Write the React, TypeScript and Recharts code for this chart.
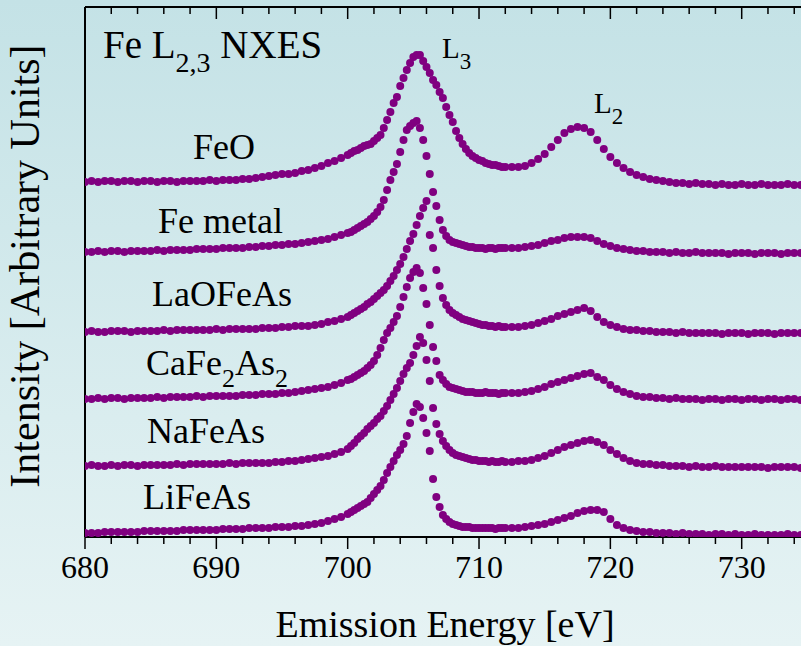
import React from 'react';
import { ScatterChart, Scatter, XAxis, YAxis } from 'recharts';

// energy grid [eV]: coarse on the tails, finer across the L3 peak
const energyLow = [
  680, 680.5, 681, 681.5, 682, 682.5, 683, 683.5, 684, 684.5,
  685, 685.5, 686, 686.5, 687, 687.5, 688, 688.5, 689, 689.5,
  690, 690.5, 691, 691.5, 692, 692.5, 693, 693.5, 694, 694.5,
  695, 695.5, 696, 696.5, 697, 697.5, 698, 698.5, 699, 699.5,
  700,
];
const energyPeak = [
  700.25, 700.5, 700.75, 701, 701.25, 701.5, 701.75, 702, 702.25, 702.5, 702.75, 703,
  703.25, 703.5, 703.75, 704, 704.25, 704.5, 704.75, 705, 705.25, 705.5, 705.75, 706,
  706.25, 706.5, 706.75, 707, 707.25, 707.5, 707.75, 708, 708.25, 708.5, 708.75, 709,
  709.25, 709.5, 709.75, 710, 710.25, 710.5, 710.75, 711, 711.25, 711.5, 711.75, 712,
];
const energyHigh = [
  712.5, 713, 713.5, 714, 714.5, 715, 715.5, 716, 716.5, 717,
  717.5, 718, 718.5, 719, 719.5, 720, 720.5, 721, 721.5, 722,
  722.5, 723, 723.5, 724, 724.5, 725, 725.5, 726, 726.5, 727,
  727.5, 728, 728.5, 729, 729.5, 730, 730.5, 731, 731.5, 732,
  732.5, 733, 733.5, 734, 734.5, 735,
];
const energy = [...energyLow, ...energyPeak, ...energyHigh];

// intensities (arb. units)
const feo = [
  0, 1, 0, 1, 1, 0, 1, 1, 0, 1,
  1, 0, 1, 1, 0, 1, 1, 1, 1, 2,
  1, 2, 2, 2, 3, 3, 4, 5, 6, 7,
  8, 8, 9, 11, 12, 14, 16, 19, 21, 24,
  27,
  29, 31, 32, 34, 36, 37, 38, 41, 44, 47, 54, 62,
  70, 79, 85, 96, 104, 112, 119, 125, 127, 127, 121, 115,
  109, 102, 97, 90, 84, 75, 67, 60, 51, 44, 38, 33,
  29, 26, 24, 22, 21, 19, 18, 17, 17, 16, 15, 15,
  15, 15, 16, 19, 23, 28, 35, 42, 49, 53,
  55, 54, 50, 42, 33, 25, 19, 14, 10, 7,
  5, 3, 2, 1, 0, -1, -1, -2, -1, -2,
  -2, -3, -2, -3, -3, -2, -3, -3, -2, -3,
  -3, -3, -2, -3, -3, -3,
];
const feMetal = [
  0, 0, 1, 0, 1, 1, 0, 1, 1, 1,
  1, 2, 1, 2, 2, 2, 2, 3, 3, 3,
  3, 4, 4, 4, 4, 5, 5, 6, 6, 7,
  7, 8, 8, 9, 10, 11, 12, 13, 15, 17,
  19,
  20, 22, 24, 26, 28, 30, 33, 36, 40, 45, 52, 62,
  72, 80, 88, 100, 112, 122, 126, 129, 131, 124, 112, 96,
  78, 60, 46, 32, 22, 16, 12, 10, 9, 8, 7, 6,
  5, 5, 4, 4, 4, 3, 4, 4, 3, 4, 4, 4,
  4, 4, 5, 6, 7, 9, 11, 12, 14, 15,
  15, 15, 14, 11, 8, 6, 4, 3, 2, 1,
  1, 0, 0, 0, -1, 0, -1, -1, 0, -1,
  -1, -1, -1, -2, -1, -1, -1, -2, -1, -1,
  -1, -2, -1, -1, -1, -1,
];
const laofeas = [
  0, 1, 0, 0, 1, 1, 1, 0, 1, 1,
  1, 1, 2, 1, 2, 2, 2, 2, 2, 2,
  3, 2, 3, 3, 3, 3, 3, 4, 4, 4,
  5, 5, 6, 6, 6, 7, 8, 10, 11, 13,
  15,
  17, 19, 21, 23, 25, 28, 30, 33, 36, 39, 42, 46,
  51, 56, 62, 68, 75, 83, 91, 98, 107, 116, 124, 131,
  97, 84, 62, 46, 34, 27, 22, 19, 17, 15, 13, 12,
  11, 10, 9, 8, 7, 7, 6, 6, 5, 6, 5, 5,
  5, 5, 6, 7, 9, 11, 13, 16, 18, 20,
  22, 24, 21, 15, 10, 7, 5, 3, 2, 2,
  1, 1, 0, 0, 0, -1, 0, -1, -1, -1,
  -1, -1, -2, -1, -1, -1, -2, -1, -1, -1,
  -2, -1, -1, -1, -1, -1,
];
const cafe2as2 = [
  0, 0, 1, 0, 1, 1, 0, 1, 1, 1,
  1, 2, 1, 2, 2, 2, 2, 3, 2, 3,
  3, 3, 3, 3, 4, 4, 4, 5, 5, 5,
  6, 6, 7, 8, 9, 10, 11, 12, 14, 16,
  19,
  20, 22, 24, 26, 28, 31, 34, 38, 44, 51, 59, 66,
  71, 77, 83, 92, 102, 112, 121, 127, 131, 126, 111, 95,
  74, 52, 38, 24, 19, 15, 12, 11, 10, 9, 8, 7,
  7, 7, 6, 6, 6, 7, 6, 6, 6, 5, 6, 6,
  6, 6, 7, 8, 10, 12, 15, 17, 19, 21,
  23, 25, 26, 22, 19, 14, 10, 7, 5, 3,
  2, 2, 1, 1, 0, 1, 0, 0, 0, -1,
  0, 0, -1, 0, 0, -1, 0, 0, -1, 0,
  0, -1, 0, 0, -1, 0,
];
const nafeas = [
  0, 1, 0, 0, 1, 0, 1, 1, 0, 1,
  1, 1, 1, 1, 2, 1, 2, 2, 2, 2,
  2, 2, 3, 2, 3, 3, 3, 3, 3, 4,
  4, 5, 5, 6, 7, 8, 9, 10, 12, 14,
  17,
  20, 23, 27, 30, 33, 37, 40, 43, 47, 50, 55, 60,
  66, 72, 78, 85, 92, 98, 103, 111, 120, 129, 123, 106,
  85, 58, 42, 32, 25, 20, 16, 13, 11, 10, 9, 8,
  7, 6, 6, 5, 5, 5, 4, 5, 4, 4, 5, 4,
  4, 5, 5, 6, 8, 10, 13, 16, 19, 21,
  23, 25, 26, 24, 21, 16, 12, 8, 5, 3,
  2, 2, 1, 1, 0, 0, 0, -1, 0, -1,
  -1, 0, -1, -1, -1, -1, -1, -1, -1, -2,
  -1, -1, -1, -1, -2, -1,
];
const lifeas = [
  0, 0, 0, 1, 1, 1, 1, 1, 1, 2,
  2, 2, 2, 2, 2, 3, 3, 3, 3, 3,
  3, 4, 4, 4, 4, 5, 5, 5, 5, 6,
  6, 6, 7, 7, 8, 9, 10, 12, 14, 16,
  19,
  21, 23, 25, 27, 29, 31, 35, 39, 43, 47, 53, 60,
  66, 72, 78, 83, 89, 97, 110, 121, 129, 126, 115, 100,
  82, 54, 36, 26, 18, 14, 11, 9, 8, 7, 6, 6,
  6, 5, 5, 5, 5, 5, 5, 5, 4, 5, 5, 5,
  5, 5, 6, 7, 8, 9, 11, 13, 15, 17,
  20, 22, 23, 23, 21, 14, 8, 5, 3, 2,
  1, 1, 0, 0, 0, -1, 0, -1, -1, -1,
  -2, -1, -1, -2, -1, -2, -2, -1, -2, -2,
  -2, -2, -1, -2, -2, -2,
];

const spectra = [feo, feMetal, laofeas, cafe2as2, nafeas, lifeas];
const offsets = [355, 285, 205, 138, 71, 4];

const xTicks = [
  680, 682, 684, 686, 688, 690, 692, 694, 696, 698, 700, 702, 704, 706,
  708, 710, 712, 714, 716, 718, 720, 722, 724, 726, 728, 730, 732, 734,
];

const serif = "'Liberation Serif', 'Times New Roman', Times, serif";
const purple = '#800080';
const txt = { fontFamily: serif };

const Dot = (props: any) => <circle cx={props.cx} cy={props.cy} r={4} fill={purple} />;

const BottomTick = (props: any) => {
  const { x, y, payload } = props;
  const major = payload.value % 10 === 0;
  return (
    <g>
      <line x1={x} y1={y} x2={x} y2={y + (major ? 12 : 7)} stroke="#000" strokeWidth={1.5} />
      {major && (
        <text x={x} y={y + 41} textAnchor="middle" fontSize={32} style={txt} fill="#000">
          {payload.value}
        </text>
      )}
    </g>
  );
};

const TopTick = (props: any) => {
  const { x, y, payload } = props;
  const major = payload.value % 10 === 0;
  return <line x1={x} y1={y} x2={x} y2={y + (major ? 12 : 7)} stroke="#000" strokeWidth={1.5} />;
};

const App: React.FC = () => {
  const series = spectra.map((vals, i) =>
    vals.map((v, j) => ({ x: energy[j], y: v + offsets[i] }))
  );

  return (
    <div
      style={{
        position: 'absolute',
        left: 0,
        top: 0,
        width: 801,
        height: 646,
        overflow: 'hidden',
        background: 'linear-gradient(to bottom, #c4e2e6 0%, #e6f3f4 100%)',
      }}
    >
      <ScatterChart width={810} height={646} margin={{ top: 6, right: 0, left: 84, bottom: 108 }}>
        <XAxis
          type="number"
          dataKey="x"
          domain={[680, 735.2]}
          allowDataOverflow
          ticks={xTicks}
          interval={0}
          height={1}
          tickSize={0}
          tickMargin={0}
          tickLine={false}
          tick={(p: any) => <BottomTick {...p} />}
          axisLine={{ stroke: '#000', strokeWidth: 2 }}
        />
        <XAxis
          xAxisId="top"
          orientation="top"
          type="number"
          dataKey="x"
          domain={[680, 735.2]}
          allowDataOverflow
          ticks={xTicks}
          interval={0}
          height={1}
          tickSize={0}
          tickMargin={0}
          tickLine={false}
          tick={(p: any) => <TopTick {...p} />}
          axisLine={{ stroke: '#000', strokeWidth: 2 }}
        />
        <YAxis
          type="number"
          dataKey="y"
          domain={[0, 530]}
          allowDataOverflow
          width={1}
          tick={false}
          tickLine={false}
          axisLine={{ stroke: '#000', strokeWidth: 2 }}
        />
        {series.map((d, i) => (
          <Scatter key={i} data={d} shape={Dot} isAnimationActive={false} />
        ))}
      </ScatterChart>

      <svg
        width={801}
        height={646}
        style={{ position: 'absolute', left: 0, top: 0, pointerEvents: 'none', fontFamily: serif }}
        fill="#000"
      >
        <text x={103} y={58} fontSize={39} style={txt}>
          Fe L<tspan dy={14} fontSize={28}>2,3</tspan>
          <tspan dy={-14}> NXES</tspan>
        </text>
        <text x={442} y={58} fontSize={29} style={txt}>
          L<tspan dy={11} fontSize={23}>3</tspan>
        </text>
        <text x={594} y={113} fontSize={29} style={txt}>
          L<tspan dy={11} fontSize={23}>2</tspan>
        </text>

        <text x={193} y={159} fontSize={36} style={txt}>FeO</text>
        <text x={158} y={233} fontSize={36} style={txt}>Fe metal</text>
        <text x={152} y={306} fontSize={36} style={txt}>LaOFeAs</text>
        <text x={146} y={375} fontSize={36} style={txt}>
          CaFe<tspan dy={12} fontSize={26}>2</tspan>
          <tspan dy={-12}>As</tspan>
          <tspan dy={12} fontSize={26}>2</tspan>
        </text>
        <text x={147} y={443} fontSize={36} style={txt}>NaFeAs</text>
        <text x={143} y={509} fontSize={36} style={txt}>LiFeAs</text>

        <text x={445} y={637} fontSize={38} textAnchor="middle" style={txt}>
          Emission Energy [eV]
        </text>
        <text x={39} y={266} fontSize={42} textAnchor="middle" transform="rotate(-90 39 266)" style={txt}>
          Intensity [Arbitrary Units]
        </text>
      </svg>
    </div>
  );
};

export default App;
